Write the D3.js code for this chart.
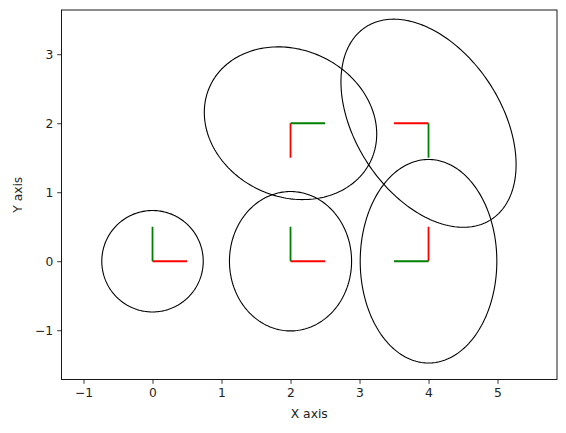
<!DOCTYPE html>
<html>
<head>
<meta charset="utf-8">
<script src="https://cdn.jsdelivr.net/npm/d3@7"></script>
<style>
  body { margin: 0; background: #fff; }
  text { font-family: "DejaVu Sans", sans-serif; }
</style>
</head>
<body>
<div id="graph"></div>
<script>
const W = 566, H = 433;

// ellipse centres, full widths / heights (data units), rotation in degrees
const centers = [[0, 0], [2, 0], [4, 0], [2, 2], [4, 2]];
const widths = [1.47, 1.77, 1.98, 2.57, 3.33];
const heights = [1.47, 2.02, 2.95, 2.13, 2.11];
const angles = [0, 0, 0, -24.7, -56.8];

// little coordinate frames: red = local x, green = local y
const frameAngles = [0, 0, 90, -90, 180];
const frameLen = 0.5;

const xTicks = [-1, 0, 1, 2, 3, 4, 5];
const yTicks = [-1, 0, 1, 2, 3];

const pL = 61.5, pR = 557, pT = 10, pB = 379.5;

const svg = d3.select("#graph")
  .append("svg")
  .attr("width", W)
  .attr("height", H);

const x = d3.scaleLinear().domain([-1.319, 5.862]).range([pL, pR]);
const y = d3.scaleLinear().domain([-1.714, 3.641]).range([pB, pT]);

// ellipses
const line = d3.line().x(d => x(d[0])).y(d => y(d[1]));
const nPts = 240;
centers.forEach(function (c, i) {
  const a = widths[i] / 2, b = heights[i] / 2;
  const t = angles[i] * Math.PI / 180;
  const pts = d3.range(nPts + 1).map(function (k) {
    const u = 2 * Math.PI * k / nPts;
    const ex = a * Math.cos(u), ey = b * Math.sin(u);
    return [c[0] + ex * Math.cos(t) - ey * Math.sin(t),
            c[1] + ex * Math.sin(t) + ey * Math.cos(t)];
  });
  svg.append("path")
    .attr("d", line(pts) + "Z")
    .attr("fill", "none")
    .attr("stroke", "black")
    .attr("stroke-width", 1.1);
});

// frames
centers.forEach(function (c, i) {
  const t = frameAngles[i] * Math.PI / 180;
  const tg = t + Math.PI / 2;
  svg.append("line")
    .attr("x1", x(c[0])).attr("y1", y(c[1]))
    .attr("x2", x(c[0] + frameLen * Math.cos(t)))
    .attr("y2", y(c[1] + frameLen * Math.sin(t)))
    .attr("stroke", "red").attr("stroke-width", 1.8);
  svg.append("line")
    .attr("x1", x(c[0])).attr("y1", y(c[1]))
    .attr("x2", x(c[0] + frameLen * Math.cos(tg)))
    .attr("y2", y(c[1] + frameLen * Math.sin(tg)))
    .attr("stroke", "green").attr("stroke-width", 1.8);
});

// axes
const xAxis = d3.axisBottom(x).tickValues(xTicks).tickSize(4.3).tickPadding(4).tickFormat(d3.format("d"));
const yAxis = d3.axisLeft(y).tickValues(yTicks).tickSize(4.3).tickPadding(4).tickFormat(d3.format("d"));

const gx = svg.append("g")
  .attr("transform", "translate(0," + pB + ")")
  .call(xAxis);
const gy = svg.append("g")
  .attr("transform", "translate(" + pL + ",0)")
  .call(yAxis);

[gx, gy].forEach(function (g) {
  g.select(".domain").remove();
  g.selectAll("line").attr("stroke", "black").attr("stroke-width", 0.8);
  g.selectAll("text")
    .attr("fill", "#222")
    .style("font-size", "12.3px")
    .style("font-family", "DejaVu Sans, sans-serif");
});

svg.append("rect")
  .attr("x", pL).attr("y", pT)
  .attr("width", pR - pL).attr("height", pB - pT)
  .attr("fill", "none")
  .attr("stroke", "black")
  .attr("stroke-width", 0.9);

svg.append("text")
  .attr("x", (pL + pR) / 2)
  .attr("y", 418)
  .attr("text-anchor", "middle")
  .style("font-size", "12.3px")
  .attr("fill", "#222")
  .text("X axis");

svg.append("text")
  .attr("transform", "translate(22," + (pT + pB) / 2 + ") rotate(-90)")
  .attr("text-anchor", "middle")
  .style("font-size", "12.3px")
  .attr("fill", "#222")
  .text("Y axis");
</script>
</body>
</html>
